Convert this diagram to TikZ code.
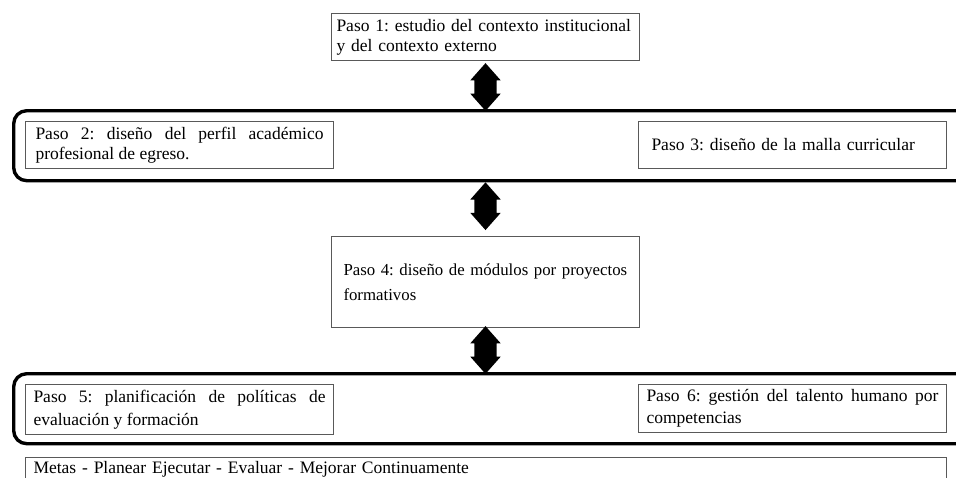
\documentclass[tikz,border=0pt]{standalone}
\usepackage{fontspec}
\setmainfont{Liberation Serif}
\usetikzlibrary{shapes.arrows,calc}
\frenchspacing
\hbadness=10000
\hfuzz=20pt

\tikzset{
  stepbox/.style={draw=black!65, line width=1pt, fill=white, rectangle,
    anchor=north west, inner xsep=8pt, inner ysep=0pt,
    text width=292pt, font=\fontsize{17.5}{20}\selectfont},
  justbox/.style={stepbox, align=justify},
  leftbox/.style={stepbox, align=left},
  groupframe/.style={draw=black, line width=3.4pt, rounded corners=13pt,
    rectangle, anchor=north west, inner sep=0pt},
  updown/.style={double arrow, fill=black, draw=none, rotate=90,
    minimum height=38pt, minimum width=30pt, inner sep=11pt,
    double arrow head extend=4pt, double arrow tip angle=83}
}

\begin{document}
\begin{tikzpicture}[x=1pt,y=-1pt]
  \useasboundingbox (0,0) rectangle (956,477);
  \clip (0,0) rectangle (956,477);
  \fill[white] (0,0) rectangle (956,477);

  % step 1
  \node[leftbox, inner xsep=5pt, text width=298pt, minimum height=47pt] (p1) at (331,13)
    {Paso 1: estudio del contexto institucional\\ y del contexto externo};

  % first group: steps 2 and 3
  \node[groupframe, minimum width=980pt, minimum height=70pt] (f1) at (12,109) {};
  \node[justbox, inner xsep=10pt, text width=288pt, minimum height=47pt] (p2) at (25,121)
    {Paso 2: diseño del perfil académico\linebreak profesional de egreso.};
  \node[leftbox, inner xsep=13pt, text width=282pt, minimum height=47pt] (p3) at (638,121)
    {Paso 3: diseño de la malla curricular};

  % step 4
  \node[leftbox, inner xsep=12pt, text width=284pt, minimum height=91pt,
        font=\fontsize{16.8}{25}\selectfont] (p4) at (331,236)
    {\mbox{Paso 4: diseño de módulos por proyectos}\\ formativos};

  % second group: steps 5 and 6
  \node[groupframe, minimum width=980pt, minimum height=70pt] (f2) at (12,372) {};
  \node[justbox, minimum height=50pt, font=\fontsize{17.5}{23}\selectfont] (p5) at (25,384)
    {Paso 5: planificación de políticas de\linebreak evaluación y formación};
  \node[justbox, minimum height=48pt, font=\fontsize{17.5}{22}\selectfont] (p6) at (638,384)
    {Paso 6: gestión del talento humano por\linebreak competencias};

  % closing cycle
  \node[stepbox, text width=905pt, align=left, minimum height=24pt] (p7) at (25,457)
    {Metas - Planear Ejecutar - Evaluar - Mejorar Continuamente};

  % two-way arrows between the stages
  \node[updown] (a1) at ($(p1.south)!0.5!(p1.south |- f1.north)+(0,2)$) {};
  \node[updown] (a2) at ($(p4.north |- f1.south)!0.5!(p4.north)+(0,-3)$) {};
  \node[updown] (a3) at ($(p4.south)!0.5!(p4.south |- f2.north)$) {};
\end{tikzpicture}
\end{document}
